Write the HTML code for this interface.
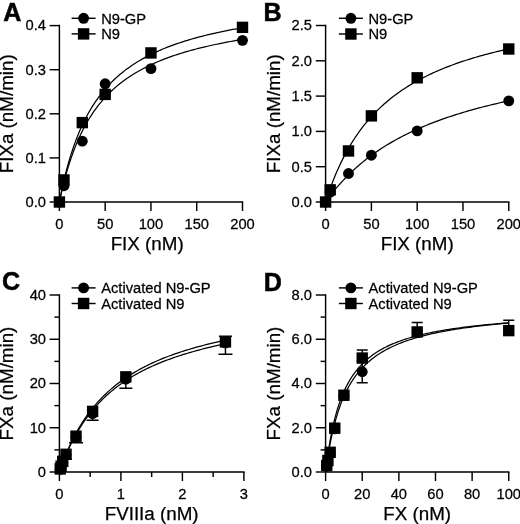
<!DOCTYPE html>
<html><head><meta charset="utf-8"><style>
html,body{margin:0;padding:0;background:#fff;}
svg{display:block;}
text{fill:#000;}
svg{will-change:transform;}
</style></head><body>
<svg width="520" height="524" viewBox="0 0 520 524">
<rect width="520" height="524" fill="#fff"/>
<path d="M59.40 202.00 L59.49 201.59 L59.66 200.75 L59.90 199.62 L60.19 198.26 L60.53 196.70 L60.92 194.96 L61.34 193.08 L61.80 191.07 L62.30 188.96 L62.84 186.74 L63.40 184.45 L64.00 182.09 L64.63 179.68 L65.29 177.22 L65.97 174.72 L66.69 172.19 L67.43 169.65 L68.20 167.10 L68.99 164.53 L69.81 161.97 L70.66 159.42 L71.53 156.87 L72.42 154.34 L73.34 151.83 L74.28 149.33 L75.25 146.87 L76.23 144.42 L77.24 142.01 L78.27 139.63 L79.32 137.28 L80.40 134.97 L81.49 132.69 L82.61 130.45 L83.74 128.24 L84.90 126.07 L86.07 123.94 L87.27 121.85 L88.48 119.80 L89.72 117.78 L90.97 115.81 L92.24 113.87 L93.53 111.97 L94.84 110.10 L96.17 108.28 L97.52 106.49 L98.88 104.74 L100.27 103.02 L101.67 101.35 L103.08 99.70 L104.52 98.09 L105.97 96.52 L107.44 94.97 L108.93 93.46 L110.43 91.99 L111.95 90.54 L113.49 89.13 L115.04 87.74 L116.61 86.39 L118.20 85.06 L119.80 83.76 L121.42 82.49 L123.05 81.25 L124.70 80.03 L126.37 78.84 L128.05 77.68 L129.75 76.54 L131.46 75.42 L133.19 74.33 L134.94 73.26 L136.70 72.21 L138.47 71.19 L140.26 70.19 L142.06 69.20 L143.88 68.24 L145.72 67.30 L147.57 66.38 L149.43 65.47 L151.31 64.59 L153.20 63.72 L155.11 62.87 L157.03 62.04 L158.96 61.22 L160.91 60.42 L162.88 59.64 L164.86 58.87 L166.85 58.12 L168.85 57.38 L170.87 56.65 L172.91 55.94 L174.95 55.25 L177.02 54.57 L179.09 53.90 L181.18 53.24 L183.28 52.60 L185.40 51.96 L187.52 51.34 L189.67 50.74 L191.82 50.14 L193.99 49.55 L196.17 48.98 L198.37 48.41 L200.58 47.86 L202.80 47.32 L205.03 46.78 L207.28 46.26 L209.54 45.74 L211.81 45.24 L214.10 44.74 L216.39 44.25 L218.70 43.77 L221.03 43.30 L223.36 42.84 L225.71 42.38 L228.07 41.94 L230.45 41.50 L232.83 41.06 L235.23 40.64 L237.64 40.22 L240.06 39.81 L242.50 39.41" fill="none" stroke="#000" stroke-width="1.25"/>
<path d="M59.40 202.00 L59.49 201.55 L59.66 200.63 L59.90 199.40 L60.19 197.91 L60.53 196.20 L60.92 194.31 L61.34 192.26 L61.80 190.07 L62.30 187.76 L62.84 185.35 L63.40 182.85 L64.00 180.28 L64.63 177.66 L65.29 174.98 L65.97 172.27 L66.69 169.53 L67.43 166.77 L68.20 164.00 L68.99 161.22 L69.81 158.45 L70.66 155.68 L71.53 152.92 L72.42 150.19 L73.34 147.47 L74.28 144.78 L75.25 142.12 L76.23 139.49 L77.24 136.89 L78.27 134.32 L79.32 131.80 L80.40 129.31 L81.49 126.86 L82.61 124.45 L83.74 122.08 L84.90 119.75 L86.07 117.46 L87.27 115.22 L88.48 113.02 L89.72 110.86 L90.97 108.74 L92.24 106.67 L93.53 104.64 L94.84 102.65 L96.17 100.70 L97.52 98.79 L98.88 96.92 L100.27 95.09 L101.67 93.29 L103.08 91.54 L104.52 89.82 L105.97 88.15 L107.44 86.50 L108.93 84.90 L110.43 83.32 L111.95 81.79 L113.49 80.28 L115.04 78.81 L116.61 77.37 L118.20 75.96 L119.80 74.58 L121.42 73.23 L123.05 71.91 L124.70 70.62 L126.37 69.36 L128.05 68.13 L129.75 66.92 L131.46 65.73 L133.19 64.58 L134.94 63.44 L136.70 62.33 L138.47 61.25 L140.26 60.19 L142.06 59.15 L143.88 58.13 L145.72 57.13 L147.57 56.16 L149.43 55.20 L151.31 54.26 L153.20 53.35 L155.11 52.45 L157.03 51.57 L158.96 50.71 L160.91 49.86 L162.88 49.03 L164.86 48.22 L166.85 47.43 L168.85 46.65 L170.87 45.89 L172.91 45.14 L174.95 44.40 L177.02 43.69 L179.09 42.98 L181.18 42.29 L183.28 41.61 L185.40 40.94 L187.52 40.29 L189.67 39.65 L191.82 39.02 L193.99 38.40 L196.17 37.80 L198.37 37.20 L200.58 36.62 L202.80 36.05 L205.03 35.49 L207.28 34.93 L209.54 34.39 L211.81 33.86 L214.10 33.34 L216.39 32.82 L218.70 32.32 L221.03 31.82 L223.36 31.34 L225.71 30.86 L228.07 30.39 L230.45 29.93 L232.83 29.47 L235.23 29.03 L237.64 28.59 L240.06 28.16 L242.50 27.73" fill="none" stroke="#000" stroke-width="1.25"/>
<path d="M59.40 24.87 V202.00 H243.22" fill="none" stroke="#000" stroke-width="1.45" stroke-linejoin="miter"/>
<path d="M49.60 202.00 H59.40" stroke="#000" stroke-width="1.45"/>
<text transform="translate(46 206.80) scale(1 1.05)" text-anchor="end" font-family="Liberation Sans, sans-serif" font-size="14.7" stroke="#000" stroke-width="0.25">0.0</text>
<path d="M49.60 157.90 H59.40" stroke="#000" stroke-width="1.45"/>
<text transform="translate(46 162.70) scale(1 1.05)" text-anchor="end" font-family="Liberation Sans, sans-serif" font-size="14.7" stroke="#000" stroke-width="0.25">0.1</text>
<path d="M49.60 113.80 H59.40" stroke="#000" stroke-width="1.45"/>
<text transform="translate(46 118.60) scale(1 1.05)" text-anchor="end" font-family="Liberation Sans, sans-serif" font-size="14.7" stroke="#000" stroke-width="0.25">0.2</text>
<path d="M49.60 69.70 H59.40" stroke="#000" stroke-width="1.45"/>
<text transform="translate(46 74.50) scale(1 1.05)" text-anchor="end" font-family="Liberation Sans, sans-serif" font-size="14.7" stroke="#000" stroke-width="0.25">0.3</text>
<path d="M49.60 25.60 H59.40" stroke="#000" stroke-width="1.45"/>
<text transform="translate(46 30.40) scale(1 1.05)" text-anchor="end" font-family="Liberation Sans, sans-serif" font-size="14.7" stroke="#000" stroke-width="0.25">0.4</text>
<path d="M59.40 202.00 V211.00" stroke="#000" stroke-width="1.45"/>
<text transform="translate(59.40 229) scale(1 1.05)" text-anchor="middle" font-family="Liberation Sans, sans-serif" font-size="14.7" stroke="#000" stroke-width="0.25">0</text>
<path d="M105.17 202.00 V211.00" stroke="#000" stroke-width="1.45"/>
<text transform="translate(105.17 229) scale(1 1.05)" text-anchor="middle" font-family="Liberation Sans, sans-serif" font-size="14.7" stroke="#000" stroke-width="0.25">50</text>
<path d="M150.95 202.00 V211.00" stroke="#000" stroke-width="1.45"/>
<text transform="translate(150.95 229) scale(1 1.05)" text-anchor="middle" font-family="Liberation Sans, sans-serif" font-size="14.7" stroke="#000" stroke-width="0.25">100</text>
<path d="M196.72 202.00 V211.00" stroke="#000" stroke-width="1.45"/>
<text transform="translate(196.72 229) scale(1 1.05)" text-anchor="middle" font-family="Liberation Sans, sans-serif" font-size="14.7" stroke="#000" stroke-width="0.25">150</text>
<path d="M242.50 202.00 V211.00" stroke="#000" stroke-width="1.45"/>
<text transform="translate(242.50 229) scale(1 1.05)" text-anchor="middle" font-family="Liberation Sans, sans-serif" font-size="14.7" stroke="#000" stroke-width="0.25">200</text>
<text x="147.15" y="250" text-anchor="middle" font-family="Liberation Sans, sans-serif" font-size="18.8" stroke="#000" stroke-width="0.25">FIX (nM)</text>
<text transform="translate(12.8 113.80) rotate(-90)" text-anchor="middle" font-family="Liberation Sans, sans-serif" font-size="18.8" stroke="#000" stroke-width="0.25">FIXa (nM/min)</text>
<text x="3.2" y="20.7" font-family="Liberation Sans, sans-serif" font-size="25.1" font-weight="bold" stroke="#000" stroke-width="0.5">A</text>
<circle cx="59.40" cy="202.00" r="5.45"/>
<circle cx="63.98" cy="185.68" r="5.45"/>
<circle cx="82.29" cy="141.14" r="5.45"/>
<circle cx="105.17" cy="83.81" r="5.45"/>
<circle cx="150.95" cy="68.60" r="5.45"/>
<circle cx="242.50" cy="40.37" r="5.45"/>
<rect x="53.70" y="196.30" width="11.4" height="11.4"/>
<rect x="58.28" y="174.25" width="11.4" height="11.4"/>
<rect x="76.59" y="116.92" width="11.4" height="11.4"/>
<rect x="99.47" y="88.70" width="11.4" height="11.4"/>
<rect x="145.25" y="47.24" width="11.4" height="11.4"/>
<rect x="236.80" y="21.66" width="11.4" height="11.4"/>
<path d="M71.60 18.3 H95.60" stroke="#000" stroke-width="1.45"/>
<circle cx="83.6" cy="18.3" r="5.45"/>
<text transform="translate(101.20 23.50) scale(1 1.05)" font-family="Liberation Sans, sans-serif" font-size="14.7" stroke="#000" stroke-width="0.25">N9-GP</text>
<path d="M71.60 33.9 H95.60" stroke="#000" stroke-width="1.45"/>
<rect x="77.90" y="28.20" width="11.4" height="11.4"/>
<text transform="translate(101.20 39.10) scale(1 1.05)" font-family="Liberation Sans, sans-serif" font-size="14.7" stroke="#000" stroke-width="0.25">N9</text>
<path d="M325.60 202.00 L325.69 201.88 L325.86 201.63 L326.10 201.29 L326.39 200.88 L326.73 200.41 L327.12 199.88 L327.54 199.30 L328.00 198.66 L328.50 197.99 L329.04 197.27 L329.60 196.52 L330.20 195.73 L330.83 194.91 L331.49 194.07 L332.17 193.19 L332.89 192.29 L333.63 191.36 L334.40 190.41 L335.20 189.44 L336.02 188.46 L336.86 187.46 L337.73 186.44 L338.63 185.40 L339.55 184.36 L340.49 183.30 L341.45 182.24 L342.44 181.16 L343.45 180.08 L344.48 178.99 L345.53 177.89 L346.60 176.79 L347.70 175.68 L348.81 174.57 L349.95 173.46 L351.11 172.35 L352.28 171.24 L353.48 170.12 L354.69 169.01 L355.93 167.90 L357.18 166.79 L358.45 165.68 L359.75 164.57 L361.06 163.47 L362.38 162.37 L363.73 161.28 L365.10 160.19 L366.48 159.10 L367.88 158.02 L369.30 156.95 L370.73 155.88 L372.19 154.82 L373.66 153.76 L375.14 152.71 L376.65 151.67 L378.17 150.63 L379.71 149.61 L381.26 148.59 L382.83 147.57 L384.42 146.57 L386.02 145.57 L387.64 144.58 L389.27 143.60 L390.93 142.63 L392.59 141.66 L394.28 140.71 L395.97 139.76 L397.69 138.82 L399.42 137.89 L401.16 136.97 L402.92 136.06 L404.70 135.16 L406.49 134.26 L408.29 133.37 L410.11 132.50 L411.95 131.63 L413.79 130.77 L415.66 129.92 L417.54 129.07 L419.43 128.24 L421.34 127.41 L423.26 126.60 L425.20 125.79 L427.15 124.99 L429.11 124.20 L431.09 123.42 L433.08 122.64 L435.09 121.87 L437.11 121.12 L439.14 120.37 L441.19 119.63 L443.25 118.89 L445.33 118.17 L447.42 117.45 L449.52 116.74 L451.64 116.04 L453.77 115.35 L455.91 114.66 L458.07 113.98 L460.23 113.31 L462.42 112.65 L464.61 111.99 L466.82 111.34 L469.04 110.70 L471.28 110.07 L473.53 109.44 L475.79 108.82 L478.06 108.21 L480.35 107.60 L482.64 107.00 L484.96 106.41 L487.28 105.82 L489.62 105.24 L491.97 104.67 L494.33 104.10 L496.70 103.54 L499.09 102.99 L501.49 102.44 L503.90 101.90 L506.32 101.36 L508.76 100.84" fill="none" stroke="#000" stroke-width="1.25"/>
<path d="M325.60 202.00 L325.69 201.73 L325.86 201.18 L326.10 200.43 L326.39 199.52 L326.73 198.48 L327.12 197.31 L327.54 196.04 L328.00 194.67 L328.50 193.22 L329.04 191.68 L329.60 190.08 L330.20 188.42 L330.83 186.70 L331.49 184.93 L332.17 183.12 L332.89 181.27 L333.63 179.38 L334.40 177.47 L335.20 175.54 L336.02 173.58 L336.86 171.61 L337.73 169.63 L338.63 167.64 L339.55 165.64 L340.49 163.64 L341.45 161.63 L342.44 159.63 L343.45 157.63 L344.48 155.64 L345.53 153.66 L346.60 151.68 L347.70 149.72 L348.81 147.77 L349.95 145.83 L351.11 143.91 L352.28 142.00 L353.48 140.11 L354.69 138.24 L355.93 136.39 L357.18 134.55 L358.45 132.74 L359.75 130.94 L361.06 129.17 L362.38 127.42 L363.73 125.69 L365.10 123.98 L366.48 122.29 L367.88 120.63 L369.30 118.99 L370.73 117.37 L372.19 115.77 L373.66 114.20 L375.14 112.65 L376.65 111.12 L378.17 109.61 L379.71 108.13 L381.26 106.67 L382.83 105.23 L384.42 103.81 L386.02 102.41 L387.64 101.04 L389.27 99.68 L390.93 98.35 L392.59 97.04 L394.28 95.75 L395.97 94.48 L397.69 93.23 L399.42 91.99 L401.16 90.78 L402.92 89.59 L404.70 88.42 L406.49 87.26 L408.29 86.13 L410.11 85.01 L411.95 83.91 L413.79 82.83 L415.66 81.76 L417.54 80.72 L419.43 79.68 L421.34 78.67 L423.26 77.67 L425.20 76.69 L427.15 75.72 L429.11 74.77 L431.09 73.84 L433.08 72.92 L435.09 72.01 L437.11 71.12 L439.14 70.24 L441.19 69.38 L443.25 68.53 L445.33 67.69 L447.42 66.87 L449.52 66.06 L451.64 65.26 L453.77 64.48 L455.91 63.71 L458.07 62.95 L460.23 62.20 L462.42 61.46 L464.61 60.74 L466.82 60.02 L469.04 59.32 L471.28 58.63 L473.53 57.94 L475.79 57.27 L478.06 56.61 L480.35 55.96 L482.64 55.32 L484.96 54.69 L487.28 54.06 L489.62 53.45 L491.97 52.85 L494.33 52.25 L496.70 51.66 L499.09 51.09 L501.49 50.52 L503.90 49.96 L506.32 49.40 L508.76 48.86" fill="none" stroke="#000" stroke-width="1.25"/>
<path d="M325.60 24.77 V202.00 H509.49" fill="none" stroke="#000" stroke-width="1.45" stroke-linejoin="miter"/>
<path d="M315.80 202.00 H325.60" stroke="#000" stroke-width="1.45"/>
<text transform="translate(312 206.80) scale(1 1.05)" text-anchor="end" font-family="Liberation Sans, sans-serif" font-size="14.7" stroke="#000" stroke-width="0.25">0.0</text>
<path d="M315.80 166.70 H325.60" stroke="#000" stroke-width="1.45"/>
<text transform="translate(312 171.50) scale(1 1.05)" text-anchor="end" font-family="Liberation Sans, sans-serif" font-size="14.7" stroke="#000" stroke-width="0.25">0.5</text>
<path d="M315.80 131.40 H325.60" stroke="#000" stroke-width="1.45"/>
<text transform="translate(312 136.20) scale(1 1.05)" text-anchor="end" font-family="Liberation Sans, sans-serif" font-size="14.7" stroke="#000" stroke-width="0.25">1.0</text>
<path d="M315.80 96.10 H325.60" stroke="#000" stroke-width="1.45"/>
<text transform="translate(312 100.90) scale(1 1.05)" text-anchor="end" font-family="Liberation Sans, sans-serif" font-size="14.7" stroke="#000" stroke-width="0.25">1.5</text>
<path d="M315.80 60.80 H325.60" stroke="#000" stroke-width="1.45"/>
<text transform="translate(312 65.60) scale(1 1.05)" text-anchor="end" font-family="Liberation Sans, sans-serif" font-size="14.7" stroke="#000" stroke-width="0.25">2.0</text>
<path d="M315.80 25.50 H325.60" stroke="#000" stroke-width="1.45"/>
<text transform="translate(312 30.30) scale(1 1.05)" text-anchor="end" font-family="Liberation Sans, sans-serif" font-size="14.7" stroke="#000" stroke-width="0.25">2.5</text>
<path d="M325.60 202.00 V211.00" stroke="#000" stroke-width="1.45"/>
<text transform="translate(325.60 229) scale(1 1.05)" text-anchor="middle" font-family="Liberation Sans, sans-serif" font-size="14.7" stroke="#000" stroke-width="0.25">0</text>
<path d="M371.39 202.00 V211.00" stroke="#000" stroke-width="1.45"/>
<text transform="translate(371.39 229) scale(1 1.05)" text-anchor="middle" font-family="Liberation Sans, sans-serif" font-size="14.7" stroke="#000" stroke-width="0.25">50</text>
<path d="M417.18 202.00 V211.00" stroke="#000" stroke-width="1.45"/>
<text transform="translate(417.18 229) scale(1 1.05)" text-anchor="middle" font-family="Liberation Sans, sans-serif" font-size="14.7" stroke="#000" stroke-width="0.25">100</text>
<path d="M462.97 202.00 V211.00" stroke="#000" stroke-width="1.45"/>
<text transform="translate(462.97 229) scale(1 1.05)" text-anchor="middle" font-family="Liberation Sans, sans-serif" font-size="14.7" stroke="#000" stroke-width="0.25">150</text>
<path d="M508.76 202.00 V211.00" stroke="#000" stroke-width="1.45"/>
<text transform="translate(508.76 229) scale(1 1.05)" text-anchor="middle" font-family="Liberation Sans, sans-serif" font-size="14.7" stroke="#000" stroke-width="0.25">200</text>
<text x="417.18" y="250" text-anchor="middle" font-family="Liberation Sans, sans-serif" font-size="18.8" stroke="#000" stroke-width="0.25">FIX (nM)</text>
<text transform="translate(279.5 113.75) rotate(-90)" text-anchor="middle" font-family="Liberation Sans, sans-serif" font-size="18.8" stroke="#000" stroke-width="0.25">FIXa (nM/min)</text>
<text x="263.6" y="20.6" font-family="Liberation Sans, sans-serif" font-size="25.1" font-weight="bold" stroke="#000" stroke-width="0.5">B</text>
<circle cx="325.60" cy="202.00" r="5.45"/>
<circle cx="330.18" cy="192.12" r="5.45"/>
<circle cx="348.50" cy="173.48" r="5.45"/>
<circle cx="371.39" cy="155.19" r="5.45"/>
<circle cx="417.18" cy="130.91" r="5.45"/>
<circle cx="508.76" cy="100.83" r="5.45"/>
<rect x="319.90" y="196.30" width="11.4" height="11.4"/>
<rect x="324.48" y="184.16" width="11.4" height="11.4"/>
<rect x="342.80" y="145.26" width="11.4" height="11.4"/>
<rect x="365.69" y="110.17" width="11.4" height="11.4"/>
<rect x="411.48" y="72.11" width="11.4" height="11.4"/>
<rect x="503.06" y="43.31" width="11.4" height="11.4"/>
<path d="M338.90 18.3 H362.90" stroke="#000" stroke-width="1.45"/>
<circle cx="350.9" cy="18.3" r="5.45"/>
<text transform="translate(368.50 23.50) scale(1 1.05)" font-family="Liberation Sans, sans-serif" font-size="14.7" stroke="#000" stroke-width="0.25">N9-GP</text>
<path d="M338.90 34.0 H362.90" stroke="#000" stroke-width="1.45"/>
<rect x="345.20" y="28.30" width="11.4" height="11.4"/>
<text transform="translate(368.50 39.20) scale(1 1.05)" font-family="Liberation Sans, sans-serif" font-size="14.7" stroke="#000" stroke-width="0.25">N9</text>
<path d="M59.40 472.00 L59.48 471.78 L59.64 471.32 L59.85 470.70 L60.12 469.95 L60.43 469.09 L60.78 468.13 L61.16 467.07 L61.58 465.94 L62.03 464.74 L62.52 463.47 L63.03 462.14 L63.57 460.77 L64.14 459.34 L64.74 457.88 L65.36 456.37 L66.01 454.84 L66.68 453.28 L67.38 451.70 L68.10 450.09 L68.84 448.47 L69.61 446.83 L70.40 445.18 L71.21 443.53 L72.04 441.87 L72.90 440.20 L73.77 438.54 L74.67 436.87 L75.58 435.21 L76.52 433.55 L77.47 431.90 L78.44 430.25 L79.43 428.61 L80.45 426.99 L81.48 425.37 L82.52 423.77 L83.59 422.18 L84.67 420.60 L85.78 419.03 L86.89 417.49 L88.03 415.95 L89.19 414.44 L90.36 412.94 L91.54 411.45 L92.75 409.99 L93.97 408.54 L95.21 407.11 L96.46 405.70 L97.73 404.30 L99.02 402.93 L100.32 401.57 L101.63 400.23 L102.97 398.91 L104.31 397.61 L105.68 396.33 L107.06 395.06 L108.45 393.82 L109.86 392.59 L111.28 391.38 L112.72 390.19 L114.18 389.01 L115.64 387.86 L117.13 386.72 L118.62 385.60 L120.13 384.49 L121.66 383.41 L123.20 382.34 L124.75 381.28 L126.32 380.25 L127.90 379.23 L129.50 378.22 L131.11 377.23 L132.73 376.26 L134.37 375.30 L136.02 374.36 L137.68 373.43 L139.36 372.52 L141.05 371.62 L142.75 370.74 L144.47 369.87 L146.19 369.01 L147.94 368.17 L149.69 367.34 L151.46 366.53 L153.24 365.72 L155.04 364.93 L156.84 364.16 L158.66 363.39 L160.49 362.64 L162.34 361.89 L164.19 361.16 L166.06 360.45 L167.94 359.74 L169.84 359.04 L171.74 358.36 L173.66 357.68 L175.59 357.02 L177.54 356.37 L179.49 355.72 L181.46 355.09 L183.44 354.46 L185.43 353.85 L187.43 353.24 L189.44 352.65 L191.47 352.06 L193.51 351.48 L195.56 350.92 L197.62 350.35 L199.69 349.80 L201.77 349.26 L203.87 348.72 L205.98 348.20 L208.10 347.68 L210.23 347.16 L212.37 346.66 L214.52 346.16 L216.68 345.67 L218.86 345.19 L221.04 344.71 L223.24 344.24 L225.45 343.78" fill="none" stroke="#000" stroke-width="1.25"/>
<path d="M59.40 472.00 L59.48 471.77 L59.64 471.30 L59.85 470.66 L60.12 469.88 L60.43 468.99 L60.78 467.99 L61.16 466.90 L61.58 465.73 L62.03 464.48 L62.52 463.17 L63.03 461.80 L63.57 460.37 L64.14 458.90 L64.74 457.38 L65.36 455.83 L66.01 454.25 L66.68 452.63 L67.38 450.99 L68.10 449.34 L68.84 447.66 L69.61 445.97 L70.40 444.27 L71.21 442.56 L72.04 440.85 L72.90 439.13 L73.77 437.41 L74.67 435.69 L75.58 433.98 L76.52 432.27 L77.47 430.56 L78.44 428.87 L79.43 427.18 L80.45 425.50 L81.48 423.84 L82.52 422.18 L83.59 420.55 L84.67 418.92 L85.78 417.31 L86.89 415.72 L88.03 414.14 L89.19 412.58 L90.36 411.04 L91.54 409.51 L92.75 408.00 L93.97 406.52 L95.21 405.04 L96.46 403.59 L97.73 402.16 L99.02 400.75 L100.32 399.35 L101.63 397.98 L102.97 396.62 L104.31 395.29 L105.68 393.97 L107.06 392.67 L108.45 391.39 L109.86 390.13 L111.28 388.89 L112.72 387.67 L114.18 386.46 L115.64 385.28 L117.13 384.11 L118.62 382.96 L120.13 381.83 L121.66 380.71 L123.20 379.62 L124.75 378.54 L126.32 377.48 L127.90 376.43 L129.50 375.40 L131.11 374.39 L132.73 373.39 L134.37 372.41 L136.02 371.45 L137.68 370.50 L139.36 369.56 L141.05 368.64 L142.75 367.74 L144.47 366.85 L146.19 365.97 L147.94 365.11 L149.69 364.26 L151.46 363.43 L153.24 362.60 L155.04 361.80 L156.84 361.00 L158.66 360.22 L160.49 359.45 L162.34 358.69 L164.19 357.94 L166.06 357.21 L167.94 356.49 L169.84 355.77 L171.74 355.07 L173.66 354.38 L175.59 353.70 L177.54 353.04 L179.49 352.38 L181.46 351.73 L183.44 351.09 L185.43 350.47 L187.43 349.85 L189.44 349.24 L191.47 348.64 L193.51 348.05 L195.56 347.47 L197.62 346.90 L199.69 346.33 L201.77 345.78 L203.87 345.23 L205.98 344.69 L208.10 344.16 L210.23 343.64 L212.37 343.12 L214.52 342.62 L216.68 342.12 L218.86 341.62 L221.04 341.14 L223.24 340.66 L225.45 340.19" fill="none" stroke="#000" stroke-width="1.25"/>
<path d="M59.40 294.27 V472.00 H244.62" fill="none" stroke="#000" stroke-width="1.45" stroke-linejoin="miter"/>
<path d="M49.60 472.00 H59.40" stroke="#000" stroke-width="1.45"/>
<text transform="translate(46 476.80) scale(1 1.05)" text-anchor="end" font-family="Liberation Sans, sans-serif" font-size="14.7" stroke="#000" stroke-width="0.25">0</text>
<path d="M49.60 427.75 H59.40" stroke="#000" stroke-width="1.45"/>
<text transform="translate(46 432.55) scale(1 1.05)" text-anchor="end" font-family="Liberation Sans, sans-serif" font-size="14.7" stroke="#000" stroke-width="0.25">10</text>
<path d="M49.60 383.50 H59.40" stroke="#000" stroke-width="1.45"/>
<text transform="translate(46 388.30) scale(1 1.05)" text-anchor="end" font-family="Liberation Sans, sans-serif" font-size="14.7" stroke="#000" stroke-width="0.25">20</text>
<path d="M49.60 339.25 H59.40" stroke="#000" stroke-width="1.45"/>
<text transform="translate(46 344.05) scale(1 1.05)" text-anchor="end" font-family="Liberation Sans, sans-serif" font-size="14.7" stroke="#000" stroke-width="0.25">30</text>
<path d="M49.60 295.00 H59.40" stroke="#000" stroke-width="1.45"/>
<text transform="translate(46 299.80) scale(1 1.05)" text-anchor="end" font-family="Liberation Sans, sans-serif" font-size="14.7" stroke="#000" stroke-width="0.25">40</text>
<path d="M54.40 449.88 H59.40" stroke="#000" stroke-width="1.45"/>
<path d="M54.40 405.62 H59.40" stroke="#000" stroke-width="1.45"/>
<path d="M54.40 361.38 H59.40" stroke="#000" stroke-width="1.45"/>
<path d="M54.40 317.12 H59.40" stroke="#000" stroke-width="1.45"/>
<path d="M59.40 472.00 V481.00" stroke="#000" stroke-width="1.45"/>
<text transform="translate(59.40 499) scale(1 1.05)" text-anchor="middle" font-family="Liberation Sans, sans-serif" font-size="14.7" stroke="#000" stroke-width="0.25">0</text>
<path d="M120.90 472.00 V481.00" stroke="#000" stroke-width="1.45"/>
<text transform="translate(120.90 499) scale(1 1.05)" text-anchor="middle" font-family="Liberation Sans, sans-serif" font-size="14.7" stroke="#000" stroke-width="0.25">1</text>
<path d="M182.40 472.00 V481.00" stroke="#000" stroke-width="1.45"/>
<text transform="translate(182.40 499) scale(1 1.05)" text-anchor="middle" font-family="Liberation Sans, sans-serif" font-size="14.7" stroke="#000" stroke-width="0.25">2</text>
<path d="M243.90 472.00 V481.00" stroke="#000" stroke-width="1.45"/>
<text transform="translate(243.90 499) scale(1 1.05)" text-anchor="middle" font-family="Liberation Sans, sans-serif" font-size="14.7" stroke="#000" stroke-width="0.25">3</text>
<path d="M90.15 472.00 V477.00" stroke="#000" stroke-width="1.45"/>
<path d="M151.65 472.00 V477.00" stroke="#000" stroke-width="1.45"/>
<path d="M213.15 472.00 V477.00" stroke="#000" stroke-width="1.45"/>
<text x="151.65" y="520" text-anchor="middle" font-family="Liberation Sans, sans-serif" font-size="18.8" stroke="#000" stroke-width="0.25">FVIIIa (nM)</text>
<text transform="translate(12.8 383.50) rotate(-90)" text-anchor="middle" font-family="Liberation Sans, sans-serif" font-size="18.8" stroke="#000" stroke-width="0.25">FXa (nM/min)</text>
<text x="2.1" y="290.1" font-family="Liberation Sans, sans-serif" font-size="25.1" font-weight="bold" stroke="#000" stroke-width="0.5">C</text>
<circle cx="60.23" cy="469.35" r="5.45"/>
<circle cx="61.06" cy="466.69" r="5.45"/>
<circle cx="62.72" cy="462.26" r="5.45"/>
<path d="M66.04 454.74 V459.17 M60.04 459.17 H72.04" fill="none" stroke="#000" stroke-width="1.45"/>
<circle cx="66.04" cy="454.74" r="5.45"/>
<path d="M76.00 437.04 V442.80 M69.00 442.80 H83.00" fill="none" stroke="#000" stroke-width="1.45"/>
<circle cx="76.00" cy="437.04" r="5.45"/>
<path d="M92.61 413.59 V420.23 M86.61 420.23 H98.61" fill="none" stroke="#000" stroke-width="1.45"/>
<circle cx="92.61" cy="413.59" r="5.45"/>
<path d="M125.82 379.07 V388.15 M119.32 388.15 H132.32" fill="none" stroke="#000" stroke-width="1.45"/>
<circle cx="125.82" cy="379.07" r="5.45"/>
<path d="M225.45 342.79 V354.30 M218.45 354.30 H232.45" fill="none" stroke="#000" stroke-width="1.45"/>
<circle cx="225.45" cy="342.79" r="5.45"/>
<rect x="54.53" y="463.20" width="11.4" height="11.4"/>
<rect x="55.36" y="460.55" width="11.4" height="11.4"/>
<rect x="57.02" y="455.68" width="11.4" height="11.4"/>
<rect x="60.34" y="448.60" width="11.4" height="11.4"/>
<rect x="70.30" y="430.46" width="11.4" height="11.4"/>
<rect x="86.91" y="405.68" width="11.4" height="11.4"/>
<rect x="120.12" y="371.16" width="11.4" height="11.4"/>
<path d="M225.45 341.90 V336.15 M218.95 336.15 H231.95" fill="none" stroke="#000" stroke-width="1.45"/>
<rect x="219.75" y="336.20" width="11.4" height="11.4"/>
<path d="M71.60 287.9 H95.60" stroke="#000" stroke-width="1.45"/>
<circle cx="83.6" cy="287.9" r="5.45"/>
<text transform="translate(101.20 293.10) scale(1 1.05)" font-family="Liberation Sans, sans-serif" font-size="14.7" stroke="#000" stroke-width="0.25">Activated N9-GP</text>
<path d="M71.60 303.5 H95.60" stroke="#000" stroke-width="1.45"/>
<rect x="77.90" y="297.80" width="11.4" height="11.4"/>
<text transform="translate(101.20 308.70) scale(1 1.05)" font-family="Liberation Sans, sans-serif" font-size="14.7" stroke="#000" stroke-width="0.25">Activated N9</text>
<path d="M325.60 472.00 L325.69 471.35 L325.86 470.05 L326.10 468.31 L326.39 466.23 L326.73 463.87 L327.12 461.29 L327.54 458.54 L328.00 455.65 L328.50 452.65 L329.04 449.57 L329.60 446.45 L330.20 443.28 L330.83 440.11 L331.49 436.94 L332.17 433.78 L332.89 430.65 L333.63 427.56 L334.40 424.52 L335.20 421.52 L336.02 418.59 L336.86 415.71 L337.73 412.90 L338.63 410.16 L339.55 407.48 L340.49 404.88 L341.45 402.34 L342.44 399.88 L343.45 397.48 L344.48 395.16 L345.53 392.91 L346.60 390.72 L347.70 388.60 L348.81 386.54 L349.95 384.55 L351.11 382.62 L352.28 380.75 L353.48 378.94 L354.69 377.18 L355.93 375.49 L357.18 373.84 L358.45 372.25 L359.74 370.70 L361.05 369.21 L362.38 367.76 L363.73 366.36 L365.09 365.00 L366.48 363.68 L367.88 362.40 L369.29 361.17 L370.73 359.97 L372.18 358.81 L373.65 357.68 L375.14 356.59 L376.64 355.52 L378.17 354.50 L379.70 353.50 L381.26 352.53 L382.83 351.59 L384.41 350.67 L386.02 349.79 L387.64 348.92 L389.27 348.09 L390.92 347.27 L392.59 346.48 L394.27 345.71 L395.97 344.96 L397.68 344.24 L399.41 343.53 L401.16 342.84 L402.92 342.17 L404.69 341.52 L406.48 340.88 L408.29 340.26 L410.11 339.66 L411.94 339.07 L413.79 338.50 L415.65 337.95 L417.53 337.40 L419.43 336.87 L421.33 336.36 L423.25 335.85 L425.19 335.36 L427.14 334.88 L429.11 334.41 L431.08 333.96 L433.08 333.51 L435.08 333.08 L437.10 332.65 L439.14 332.24 L441.19 331.83 L443.25 331.43 L445.32 331.05 L447.41 330.67 L449.51 330.30 L451.63 329.94 L453.76 329.58 L455.90 329.24 L458.06 328.90 L460.23 328.57 L462.41 328.24 L464.61 327.93 L466.81 327.62 L469.04 327.31 L471.27 327.01 L473.52 326.72 L475.78 326.44 L478.05 326.16 L480.34 325.88 L482.64 325.61 L484.95 325.35 L487.27 325.09 L489.61 324.84 L491.96 324.59 L494.32 324.35 L496.69 324.11 L499.08 323.88 L501.48 323.65 L503.89 323.42 L506.31 323.20 L508.75 322.99" fill="none" stroke="#000" stroke-width="1.25"/>
<path d="M325.60 472.00 L325.69 471.26 L325.86 469.79 L326.10 467.82 L326.39 465.47 L326.73 462.82 L327.12 459.94 L327.54 456.88 L328.00 453.68 L328.50 450.38 L329.04 447.01 L329.60 443.60 L330.20 440.18 L330.83 436.76 L331.49 433.37 L332.17 430.01 L332.89 426.69 L333.63 423.44 L334.40 420.25 L335.20 417.13 L336.02 414.08 L336.86 411.12 L337.73 408.23 L338.63 405.43 L339.55 402.71 L340.49 400.08 L341.45 397.52 L342.44 395.05 L343.45 392.66 L344.48 390.35 L345.53 388.11 L346.60 385.95 L347.70 383.87 L348.81 381.85 L349.95 379.90 L351.11 378.03 L352.28 376.21 L353.48 374.46 L354.69 372.77 L355.93 371.13 L357.18 369.55 L358.45 368.03 L359.74 366.56 L361.05 365.13 L362.38 363.76 L363.73 362.43 L365.09 361.15 L366.48 359.90 L367.88 358.70 L369.29 357.54 L370.73 356.42 L372.18 355.33 L373.65 354.28 L375.14 353.26 L376.64 352.27 L378.17 351.32 L379.70 350.39 L381.26 349.50 L382.83 348.63 L384.41 347.78 L386.02 346.97 L387.64 346.17 L389.27 345.40 L390.92 344.66 L392.59 343.93 L394.27 343.23 L395.97 342.55 L397.68 341.88 L399.41 341.24 L401.16 340.61 L402.92 340.00 L404.69 339.41 L406.48 338.83 L408.29 338.27 L410.11 337.73 L411.94 337.19 L413.79 336.68 L415.65 336.17 L417.53 335.68 L419.43 335.21 L421.33 334.74 L423.25 334.29 L425.19 333.85 L427.14 333.42 L429.11 333.00 L431.08 332.59 L433.08 332.19 L435.08 331.80 L437.10 331.42 L439.14 331.04 L441.19 330.68 L443.25 330.33 L445.32 329.98 L447.41 329.64 L449.51 329.31 L451.63 328.99 L453.76 328.68 L455.90 328.37 L458.06 328.07 L460.23 327.77 L462.41 327.48 L464.61 327.20 L466.81 326.93 L469.04 326.66 L471.27 326.39 L473.52 326.13 L475.78 325.88 L478.05 325.63 L480.34 325.39 L482.64 325.15 L484.95 324.92 L487.27 324.69 L489.61 324.47 L491.96 324.25 L494.32 324.03 L496.69 323.82 L499.08 323.62 L501.48 323.42 L503.89 323.22 L506.31 323.02 L508.75 322.83" fill="none" stroke="#000" stroke-width="1.25"/>
<path d="M325.60 294.27 V472.00 H509.48" fill="none" stroke="#000" stroke-width="1.45" stroke-linejoin="miter"/>
<path d="M315.80 472.00 H325.60" stroke="#000" stroke-width="1.45"/>
<text transform="translate(312 476.80) scale(1 1.05)" text-anchor="end" font-family="Liberation Sans, sans-serif" font-size="14.7" stroke="#000" stroke-width="0.25">0.0</text>
<path d="M315.80 427.75 H325.60" stroke="#000" stroke-width="1.45"/>
<text transform="translate(312 432.55) scale(1 1.05)" text-anchor="end" font-family="Liberation Sans, sans-serif" font-size="14.7" stroke="#000" stroke-width="0.25">2.0</text>
<path d="M315.80 383.50 H325.60" stroke="#000" stroke-width="1.45"/>
<text transform="translate(312 388.30) scale(1 1.05)" text-anchor="end" font-family="Liberation Sans, sans-serif" font-size="14.7" stroke="#000" stroke-width="0.25">4.0</text>
<path d="M315.80 339.25 H325.60" stroke="#000" stroke-width="1.45"/>
<text transform="translate(312 344.05) scale(1 1.05)" text-anchor="end" font-family="Liberation Sans, sans-serif" font-size="14.7" stroke="#000" stroke-width="0.25">6.0</text>
<path d="M315.80 295.00 H325.60" stroke="#000" stroke-width="1.45"/>
<text transform="translate(312 299.80) scale(1 1.05)" text-anchor="end" font-family="Liberation Sans, sans-serif" font-size="14.7" stroke="#000" stroke-width="0.25">8.0</text>
<path d="M320.60 449.88 H325.60" stroke="#000" stroke-width="1.45"/>
<path d="M320.60 405.62 H325.60" stroke="#000" stroke-width="1.45"/>
<path d="M320.60 361.38 H325.60" stroke="#000" stroke-width="1.45"/>
<path d="M320.60 317.12 H325.60" stroke="#000" stroke-width="1.45"/>
<path d="M325.60 472.00 V481.00" stroke="#000" stroke-width="1.45"/>
<text transform="translate(325.60 499) scale(1 1.05)" text-anchor="middle" font-family="Liberation Sans, sans-serif" font-size="14.7" stroke="#000" stroke-width="0.25">0</text>
<path d="M362.23 472.00 V481.00" stroke="#000" stroke-width="1.45"/>
<text transform="translate(362.23 499) scale(1 1.05)" text-anchor="middle" font-family="Liberation Sans, sans-serif" font-size="14.7" stroke="#000" stroke-width="0.25">20</text>
<path d="M398.86 472.00 V481.00" stroke="#000" stroke-width="1.45"/>
<text transform="translate(398.86 499) scale(1 1.05)" text-anchor="middle" font-family="Liberation Sans, sans-serif" font-size="14.7" stroke="#000" stroke-width="0.25">40</text>
<path d="M435.49 472.00 V481.00" stroke="#000" stroke-width="1.45"/>
<text transform="translate(435.49 499) scale(1 1.05)" text-anchor="middle" font-family="Liberation Sans, sans-serif" font-size="14.7" stroke="#000" stroke-width="0.25">60</text>
<path d="M472.12 472.00 V481.00" stroke="#000" stroke-width="1.45"/>
<text transform="translate(472.12 499) scale(1 1.05)" text-anchor="middle" font-family="Liberation Sans, sans-serif" font-size="14.7" stroke="#000" stroke-width="0.25">80</text>
<path d="M508.75 472.00 V481.00" stroke="#000" stroke-width="1.45"/>
<text transform="translate(508.75 499) scale(1 1.05)" text-anchor="middle" font-family="Liberation Sans, sans-serif" font-size="14.7" stroke="#000" stroke-width="0.25">100</text>
<text x="417.18" y="520" text-anchor="middle" font-family="Liberation Sans, sans-serif" font-size="18.8" stroke="#000" stroke-width="0.25">FX (nM)</text>
<text transform="translate(279.5 383.50) rotate(-90)" text-anchor="middle" font-family="Liberation Sans, sans-serif" font-size="18.8" stroke="#000" stroke-width="0.25">FXa (nM/min)</text>
<text x="263.8" y="290.6" font-family="Liberation Sans, sans-serif" font-size="25.1" font-weight="bold" stroke="#000" stroke-width="0.5">D</text>
<circle cx="326.74" cy="466.03" r="5.45"/>
<circle cx="327.89" cy="460.94" r="5.45"/>
<circle cx="330.18" cy="453.19" r="5.45"/>
<circle cx="334.76" cy="428.86" r="5.45"/>
<circle cx="343.92" cy="395.67" r="5.45"/>
<path d="M362.23 371.77 V382.84 M356.73 382.84 H367.73" fill="none" stroke="#000" stroke-width="1.45"/>
<path d="M362.23 371.77 V360.71 M356.73 360.71 H367.73" fill="none" stroke="#000" stroke-width="1.45"/>
<circle cx="362.23" cy="371.77" r="5.45"/>
<circle cx="417.18" cy="332.61" r="5.45"/>
<circle cx="508.75" cy="330.40" r="5.45"/>
<rect x="321.04" y="459.88" width="11.4" height="11.4"/>
<rect x="322.19" y="454.80" width="11.4" height="11.4"/>
<rect x="324.48" y="446.61" width="11.4" height="11.4"/>
<rect x="329.06" y="422.49" width="11.4" height="11.4"/>
<rect x="338.22" y="389.53" width="11.4" height="11.4"/>
<path d="M362.23 358.06 V350.09 M356.73 350.09 H367.73" fill="none" stroke="#000" stroke-width="1.45"/>
<rect x="356.53" y="352.36" width="11.4" height="11.4"/>
<path d="M417.18 331.95 V322.44 M411.68 322.44 H422.68" fill="none" stroke="#000" stroke-width="1.45"/>
<rect x="411.48" y="326.25" width="11.4" height="11.4"/>
<path d="M508.75 330.62 V320.22 M503.25 320.22 H514.25" fill="none" stroke="#000" stroke-width="1.45"/>
<rect x="503.05" y="324.92" width="11.4" height="11.4"/>
<path d="M338.90 287.9 H362.90" stroke="#000" stroke-width="1.45"/>
<circle cx="350.9" cy="287.9" r="5.45"/>
<text transform="translate(368.50 293.10) scale(1 1.05)" font-family="Liberation Sans, sans-serif" font-size="14.7" stroke="#000" stroke-width="0.25">Activated N9-GP</text>
<path d="M338.90 303.5 H362.90" stroke="#000" stroke-width="1.45"/>
<rect x="345.20" y="297.80" width="11.4" height="11.4"/>
<text transform="translate(368.50 308.70) scale(1 1.05)" font-family="Liberation Sans, sans-serif" font-size="14.7" stroke="#000" stroke-width="0.25">Activated N9</text>
</svg>
</body></html>
